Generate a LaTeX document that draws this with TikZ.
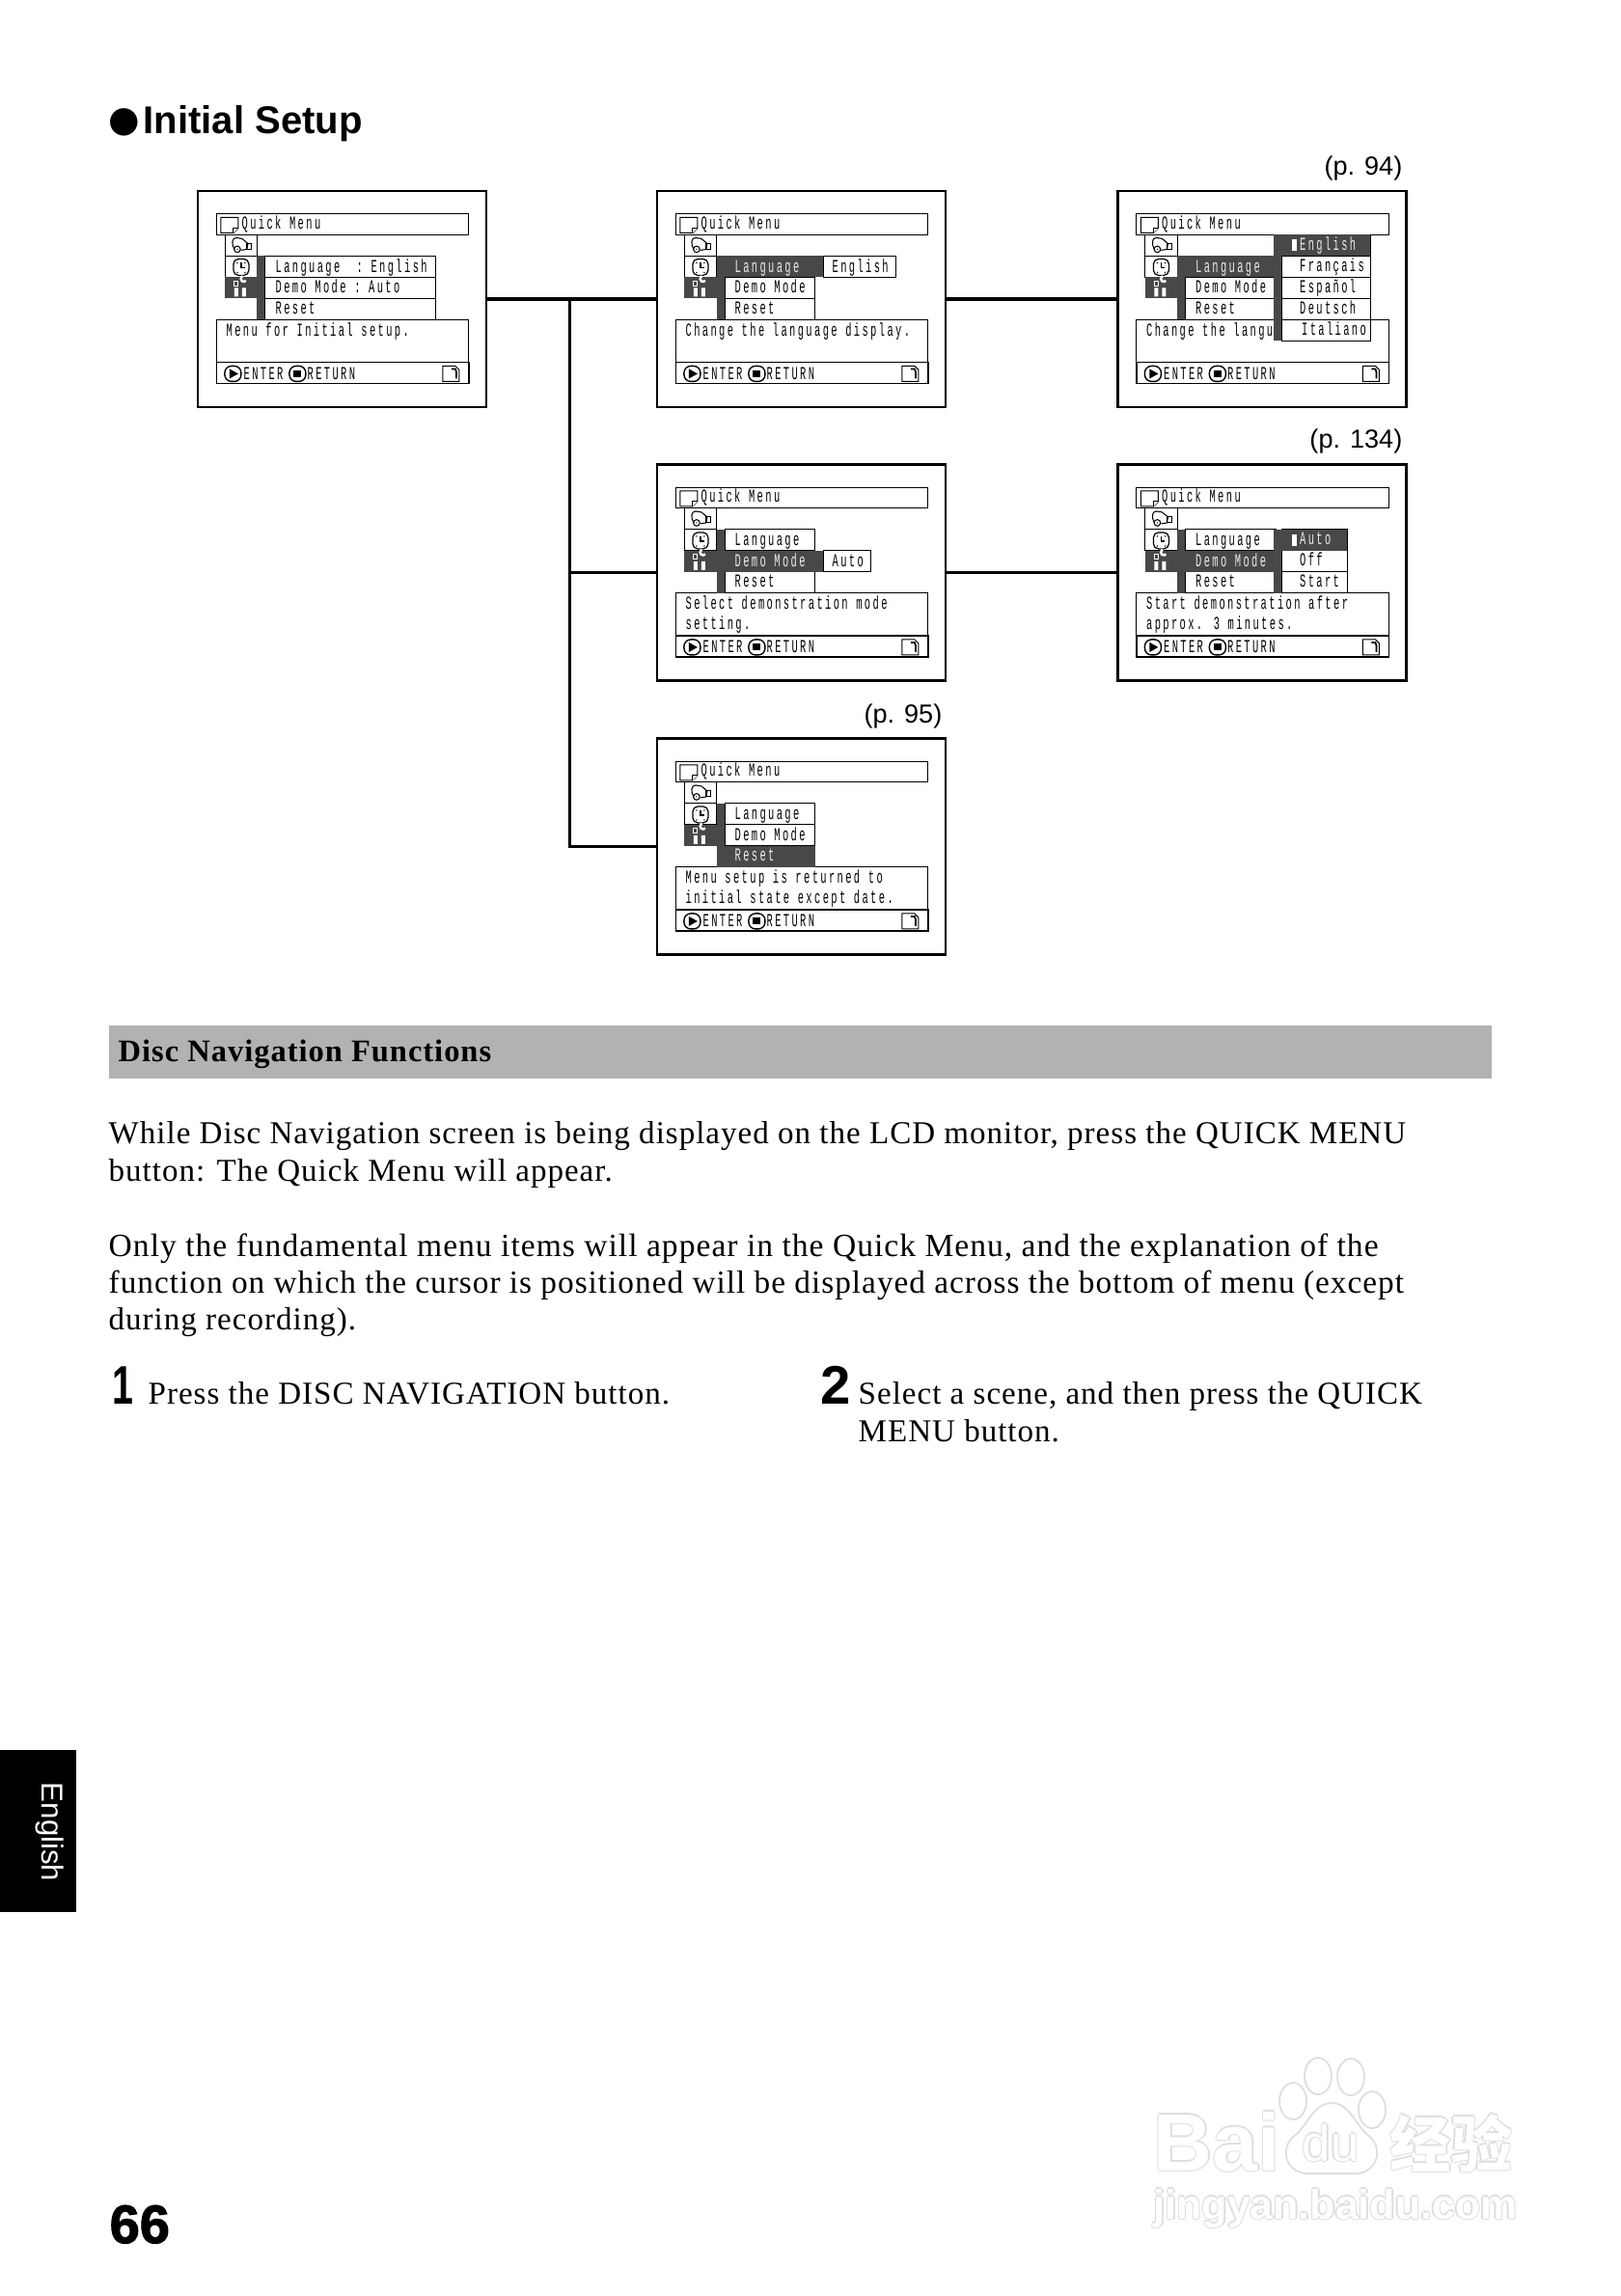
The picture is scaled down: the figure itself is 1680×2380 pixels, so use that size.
\documentclass[tikz,border=0pt]{standalone}
\usepackage{fontspec}
\usetikzlibrary{calc}
\setmainfont{Liberation Sans}
\newfontfamily\scrfont[FakeStretch=0.55,LetterSpace=12.5]{Liberation Mono}
\newfontfamily\bodyfont[LetterSpace=3]{Liberation Serif}
\newfontfamily\sansfont{Liberation Sans}
\newfontfamily\narrowfont[FakeStretch=0.7]{Liberation Sans}
\newfontfamily\heavyfont[BoldFeatures={FakeBold=2}]{Liberation Sans}
\newfontfamily\dejafont{DejaVu Sans}
\newfontfamily\cjkfont{Noto Sans CJK SC}
\definecolor{ScrDark}{RGB}{72,72,72}
\definecolor{BandGray}{RGB}{178,178,178}
\definecolor{WmGray}{RGB}{222,222,222}
\tikzset{
  scrframe/.style={draw=black, fill=white, line width=0.75pt, minimum width=2.99cm, minimum height=2.24cm, inner sep=0pt, outer sep=0pt},
  scrline/.style={draw=black, line width=0.3pt, fill=white},
  scrtxt/.style={anchor=base west, inner sep=0pt, font=\scrfont\fontsize{5.4}{6}\selectfont},
  scrwhite/.style={scrtxt, text=white!92!black},
  link/.style={line width=1.1pt},
  pageref/.style={anchor=base east, inner sep=0pt, font=\sansfont\fontsize{7.7}{9}\selectfont},
  bodytxt/.style={anchor=base west, inner sep=0pt, font=\bodyfont\fontsize{9.4}{11}\selectfont},
  stepnum/.style={anchor=base west, inner sep=0pt, font=\sansfont\bfseries\fontsize{16}{18}\selectfont},
  wmark/.style={anchor=base west, inner sep=0pt}
}
% draws the parts every screen shares, #3 holds the menu of that screen
\newcommand{\menuscreen}[3]{%
  \node[scrframe] (#1) at (#2) {};
  \begin{scope}[shift={(#1.north west)}, shift={(-1,-0.5)}, name prefix=#1-]
    \draw[scrline] (20.5,24.5) rectangle (282,46);
    \draw[scrline] (25,28) -- (43,28) -- (43,39) -- (38,44) -- (25,44) -- cycle;
    \draw[scrline] (38,44) -- (38,39) -- (43,39);
    \node[scrtxt] (title) at (46,40) {Quick Menu};
    \draw[scrline] (29.5,46) rectangle (63,68);
    \draw[scrline] (29.5,68) rectangle (63,90);
    \fill[ScrDark] (29.5,90) rectangle (63,112);
    % camcorder
    \draw[line width=0.3pt] (39,61) .. controls (36,56) and (36,49) .. (41,49) -- (47,50) -- (53,55) -- (52,61) -- (46,62);
    \draw[line width=0.3pt] (42,61) circle (3.3);
    \draw[line width=0.3pt] (52,55) rectangle (57,61);
    \fill (42,61) circle (0.7);
    % clock
    \draw[line width=0.35pt, rounded corners=1.5] (38,71) rectangle (54,88);
    \draw[line width=0.45pt] (46,75) -- (46,80) -- (50,80);
    \fill (42,75) circle (0.8) (50,75) circle (0.8) (42,85) circle (0.8) (50,85) circle (0.8);
    % tools
    \draw[white, line width=0.3pt] (39,94) rectangle (43,99);
    \fill[white] (39,101) rectangle (43,110) (47,101) rectangle (51,110);
    \draw[white, line width=0.7pt] (51,93.5) arc (40:250:3);
    \draw[scrline] (20.5,134) rectangle (282,178);
    \draw[scrline, line width=0.45pt] (20.5,178) rectangle (282,200);
    \draw[line width=0.4pt, rounded corners=2] (29,182) rectangle (46,198);
    \fill (34,185) -- (43,190) -- (34,195) -- cycle;
    \node[scrtxt] (enter) at (48,196) {ENTER};
    \draw[line width=0.4pt, rounded corners=2] (96,182) rectangle (113,198);
    \fill (100.5,186.5) rectangle (108.5,193.5);
    \node[scrtxt] (return) at (114,196) {RETURN};
    \draw[line width=0.3pt] (255,182) -- (268,182) -- (272,186) -- (272,198) -- (255,198) -- cycle;
    \draw[line width=0.5pt] (264,185) -- (268,185) -- (269,188) -- (269,195);
    #3
  \end{scope}}
% dark bar with boxed rows: left of bar, right of box, top, number of rows
\newcommand{\menucol}[4]{%
  \fill[ScrDark] (#1,#3) rectangle ({#1+8.5},{#3+22*#4});
  \foreach \r in {1,...,#4} {
    \draw[scrline] ({#1+8.5},{#3+22*(\r-1)}) rectangle (#2,{#3+22*\r});
  }}
\newcommand{\wmtext}[4]{%
  \foreach \i/\dx/\dy in {a/-1.4/0,b/1.4/0,c/0/-1.4,d/0/1.4} {
    \node[wmark, #3, text=WmGray] (#1\i) at ($(#2)+(\dx,\dy)$) {#4};
  }
  \node[wmark, #3, text=white] (#1) at (#2) {#4};}
\begin{document}
\begin{tikzpicture}[x=0.01cm, y=-0.01cm]
  \useasboundingbox (0,0) rectangle (1680,2380);
  \fill[white] (0,0) rectangle (1680,2380);
  \node[wmark, font=\dejafont\fontsize{10.6}{12}\selectfont] (bullet) at (112,137) {●};
  \node[wmark, font=\sansfont\bfseries\fontsize{11.4}{14}\selectfont] (heading) at (148,139) {Initial Setup};
  % screens
  \menuscreen{scrA}{354.5,310}{
    \menucol{62}{248}{68}{3}
    \node[scrtxt] (lang) at (81,85) {Language~~:~English};
    \node[scrtxt] (demo) at (81,106.5) {Demo~Mode~:~Auto};
    \node[scrtxt] (reset) at (81,128) {Reset};
    \node[scrtxt] (descA) at (30,151) {Menu for Initial setup.};
  }
  \menuscreen{scrB}{830.5,310}{
    \menucol{63}{165}{68}{3}
    \menucol{165}{249}{68}{1}
    \fill[ScrDark] (63,68) rectangle (173,90);
    \node[scrwhite] (lang) at (81,85) {Language};
    \node[scrtxt] (demo) at (81,106.5) {Demo Mode};
    \node[scrtxt] (reset) at (81,128) {Reset};
    \node[scrtxt] (val) at (182,85) {English};
    \node[scrtxt] (descA) at (30,151) {Change the language display.};
  }
  \menuscreen{scrC}{1308,310}{
    \menucol{63}{165}{68}{3}
    \fill[ScrDark] (63,68) rectangle (165,90);
    \node[scrwhite] (lang) at (81,85) {Language};
    \node[scrtxt] (demo) at (81,106.5) {Demo Mode};
    \node[scrtxt] (reset) at (81,128) {Reset};
    \node[scrtxt] (descA) at (30,151) {Change the langu};
    \menucol{163}{263}{46}{5}
    \fill[ScrDark] (171,46) rectangle (263,68);
    \fill[white] (182,51) rectangle (187,63);
    \node[scrwhite] (optA) at (189,62) {English};
    \node[scrtxt] (optB) at (189,84) {Français};
    \node[scrtxt] (optC) at (189,106) {Español};
    \node[scrtxt] (optD) at (189,128) {Deutsch};
    \node[scrtxt] (optE) at (191,150) {Italiano};
  }
  \menuscreen{scrD}{830.5,593.5}{
    \menucol{63}{165}{68}{3}
    \menucol{165}{223}{90}{1}
    \fill[ScrDark] (63,90) rectangle (173,112);
    \node[scrtxt] (lang) at (81,85) {Language};
    \node[scrwhite] (demo) at (81,106.5) {Demo Mode};
    \node[scrtxt] (reset) at (81,128) {Reset};
    \node[scrtxt] (val) at (182,106.5) {Auto};
    \node[scrtxt] (descA) at (30,151) {Select demonstration mode};
    \node[scrtxt] (descB) at (30,172) {setting.};
  }
  \menuscreen{scrE}{1308,593.5}{
    \menucol{63}{165}{68}{3}
    \fill[ScrDark] (63,90) rectangle (165,112);
    \node[scrtxt] (lang) at (81,85) {Language};
    \node[scrwhite] (demo) at (81,106.5) {Demo Mode};
    \node[scrtxt] (reset) at (81,128) {Reset};
    \menucol{163}{239}{68}{3}
    \fill[ScrDark] (171,68) rectangle (239,90);
    \fill[white] (182,73) rectangle (187,85);
    \node[scrwhite] (optA) at (189,84) {Auto};
    \node[scrtxt] (optB) at (189,106) {Off};
    \node[scrtxt] (optC) at (189,128) {Start};
    \node[scrtxt] (descA) at (30,151) {Start demonstration after};
    \node[scrtxt] (descB) at (30,172) {approx. 3 minutes.};
  }
  \menuscreen{scrF}{830.5,877.5}{
    \menucol{63}{165}{68}{3}
    \fill[ScrDark] (63,112) rectangle (165,134);
    \node[scrtxt] (lang) at (81,85) {Language};
    \node[scrtxt] (demo) at (81,106.5) {Demo Mode};
    \node[scrwhite] (reset) at (81,128) {Reset};
    \node[scrtxt] (descA) at (30,151) {Menu setup is returned to};
    \node[scrtxt] (descB) at (30,172) {initial state except date.};
  }
  \node[pageref] (refC) at (1454,182) {(p. 94)};
  \node[pageref] (refE) at (1454,465) {(p. 134)};
  \node[pageref] (refF) at (977,750) {(p. 95)};
  % connectors
  \coordinate (junc) at (scrA.east -| 590.5,0);
  \draw[link] (scrA.east) -- (scrB.west);
  \draw[link] (scrB.east) -- (scrC.west);
  \draw[link] (scrD.east) -- (scrE.west);
  \draw[link] (junc) |- (scrD.west);
  \draw[link] (junc) |- (scrF.west);
  % text block
  \fill[BandGray] (112.5,1063) rectangle (1546,1118);
  \node[wmark, font=\bodyfont\bfseries\fontsize{9.25}{11}\selectfont] (band) at (122,1100) {Disc Navigation Functions};
  \node[bodytxt] (lineA) at (112,1185) {While Disc Navigation screen is being displayed on the LCD monitor, press the QUICK MENU};
  \node[bodytxt] (lineB) at (112,1224) {button: The Quick Menu will appear.};
  \node[bodytxt, font=\bodyfont\fontsize{9.55}{11}\selectfont] (lineC) at (112,1302) {Only the fundamental menu items will appear in the Quick Menu, and the explanation of the};
  \node[bodytxt, font=\bodyfont\fontsize{9.47}{11}\selectfont] (lineD) at (112,1340) {function on which the cursor is positioned will be displayed across the bottom of menu (except};
  \node[bodytxt] (lineE) at (112,1378) {during recording).};
  \node[stepnum, font=\narrowfont\bfseries\fontsize{16}{18}\selectfont] (numA) at (116,1455) {1};
  \node[bodytxt] (stepA) at (153,1455) {Press the DISC NAVIGATION button.};
  \node[stepnum] (numB) at (850,1455) {2};
  \node[bodytxt] (stepB) at (889,1455) {Select a scene, and then press the QUICK};
  \node[bodytxt] (stepC) at (889,1494) {MENU button.};
  % tab and page number
  \fill[black] (0,1813.5) rectangle (79,1982);
  \node[wmark, rotate=-90, text=white, font=\sansfont\fontsize{8.9}{10}\selectfont] (tab) at (44,1847) {English};
  \node[wmark, font=\heavyfont\bfseries\fontsize{15.9}{18}\selectfont] (pagenum) at (113,2325) {66};
  % watermark
  \wmtext{wmA}{1195,2250}{font=\sansfont\bfseries\fontsize{24}{26}\selectfont}{Bai}
  \draw[WmGray, fill=white, line width=0.5pt] (1380,2180) .. controls (1400,2180) and (1405,2205) .. (1420,2215) .. controls (1435,2230) and (1425,2253) .. (1405,2253) -- (1355,2253) .. controls (1335,2253) and (1325,2230) .. (1340,2215) .. controls (1355,2205) and (1360,2180) .. (1380,2180);
  \foreach \px/\py in {1340/2178,1366/2152,1400/2153,1422/2187} {
    \draw[WmGray, fill=white, line width=0.5pt] (\px,\py) ellipse (14 and 19);
  }
  \wmtext{wmB}{1349,2240}{font=\sansfont\fontsize{15}{17}\selectfont}{du}
  \wmtext{wmC}{1440,2246}{font=\cjkfont\bfseries\fontsize{18}{20}\selectfont}{经验}
  \wmtext{wmD}{1195,2300}{font=\sansfont\bfseries\fontsize{12.2}{14}\selectfont}{jingyan.baidu.com}
\end{tikzpicture}
\end{document}
